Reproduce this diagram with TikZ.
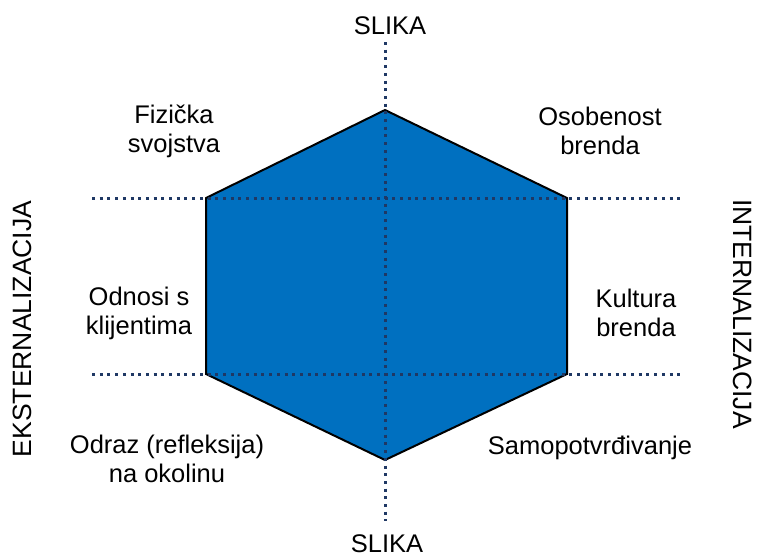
\documentclass[tikz,border=0pt]{standalone}
\usepackage{fontspec}
\setmainfont{Liberation Sans}
\definecolor{hexblue}{HTML}{0070C0}
\definecolor{dotnavy}{HTML}{1F3864}
\begin{document}
\begin{tikzpicture}[x=1pt,y=-1pt,
  lbl/.style={font=\fontsize{25.5}{29}\selectfont, align=center, inner sep=0pt},
  side/.style={font=\fontsize{26.5}{30}\selectfont, inner sep=0pt},
  dotline/.style={draw=dotnavy, line width=3pt, dash pattern=on 3pt off 4.7pt},
  hexa/.style={fill=hexblue, draw=black, line width=2pt, line join=miter}]
\useasboundingbox (0,0) rectangle (758,558);
\coordinate (T) at (385,110);
\coordinate (UR) at (567,198);
\coordinate (LR) at (567,374);
\coordinate (B) at (385,460);
\coordinate (LL) at (206,374);
\coordinate (UL) at (206,198);
\draw[hexa] (T) -- (UR) -- (LR) -- (B) -- (LL) -- (UL) -- cycle;
\coordinate (vt) at (385,42);
\coordinate (vb) at (385,521);
\coordinate (h1l) at (92,198);
\coordinate (h1r) at (682,198);
\coordinate (h2l) at (92,374);
\coordinate (h2r) at (682,374);
\draw[dotline] (vt) -- (vb);
\draw[dotline] (h1l) -- (h1r);
\draw[dotline] (h2l) -- (h2r);
\node[lbl] (st) at (390,26) {SLIKA};
\node[lbl] (sb) at (387,544) {SLIKA};
\node[lbl] (fs) at (174,131) {Fizička\\svojstva};
\node[lbl] (ob) at (600,131) {Osobenost\\brenda};
\node[lbl] (ok) at (139,313) {Odnosi s\\klijentima};
\node[lbl] (kb) at (636,313) {Kultura\\brenda};
\node[lbl] (or) at (167,459) {Odraz (refleksija)\\na okolinu};
\node[lbl] (sp) at (590,448) {Samopotvrđivanje};
\node[side, rotate=90] (ek) at (22,329) {EKSTERNALIZACIJA};
\node[side, rotate=-90] (in) at (743,314) {INTERNALIZACIJA};
\end{tikzpicture}
\end{document}
